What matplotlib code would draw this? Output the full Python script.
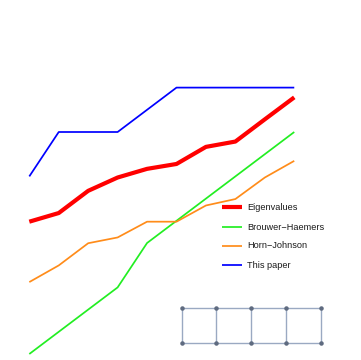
import matplotlib.pyplot as plt
from matplotlib.lines import Line2D

# data (arbitrary units)
n = [0, 1, 2, 3, 4, 5, 6, 7, 8, 9]
eigenvalues = [5.96, 6.35, 7.35, 7.95, 8.34, 8.56, 9.33, 9.57, 10.57, 11.56]
brouwer_haemers = [0, 1, 2, 3, 5, 6, 7, 8, 9, 10]
horn_johnson = [3.24, 3.99, 4.99, 5.25, 5.96, 5.96, 6.69, 6.98, 7.95, 8.70]
this_paper = [8, 10, 10, 10, 11, 12, 12, 12, 12, 12]

labels = ['Eigenvalues', 'Brouwer\u2212Haemers', 'Horn\u2212Johnson', 'This paper']
colors = ['#ff0000', '#22ee22', '#ff8c1a', '#0000ff']
widths = [3.0, 1.25, 1.25, 1.25]

# ladder graph (2 x 5)
ladder_cols = [0, 1, 2, 3, 4]
ladder_rows = [0, 1]

W, H = 361, 360
fig = plt.figure(figsize=(W / 100, H / 100), dpi=100)
ax = fig.add_axes([0, 0, 1, 1])
ax.axis('off')

series = [eigenvalues, brouwer_haemers, horn_johnson, this_paper]
for ys, c, lw in zip(series, colors, widths):
    ax.plot(n, ys, color=c, lw=lw, solid_capstyle='butt', solid_joinstyle='round')

# map data to pixel positions of the reference
x0, dx = 29.3, 29.44
y0, dy = 354.0, 22.2
ax.set_xlim(-x0 / dx, (W - x0) / dx)
ax.set_ylim(-(H - y0) / dy, y0 / dy)

# legend drawn by hand
leg_y = [207.3, 227.0, 245.5, 265.0]
for lab, c, lw, py in zip(labels, colors, widths, leg_y):
    fy = 1 - py / H
    fig.add_artist(Line2D([222 / W, 242 / W], [fy, fy], color=c, lw=lw,
                          solid_capstyle='butt', transform=fig.transFigure))
    fig.text(247 / W, fy, lab, fontsize=6.6, family=['Liberation Sans', 'DejaVu Sans'],
             color='#1a1a1a', va='center', ha='left')

# inset: ladder graph
gx = fig.add_axes([181.7 / W, 1 - 342.7 / H, (320.7 - 181.7) / W, (342.7 - 308.3) / H])
gx.axis('off')
edge_c = '#9aa9c2'
node_c = '#5f6b80'
for r in ladder_rows:
    gx.plot(ladder_cols, [r] * len(ladder_cols), color=edge_c, lw=1.0, zorder=1)
for c in ladder_cols:
    gx.plot([c, c], ladder_rows, color=edge_c, lw=1.0, zorder=1)
for r in ladder_rows:
    gx.scatter(ladder_cols, [r] * len(ladder_cols), s=5, color=node_c, zorder=2)
gx.set_xlim(0, 4)
gx.set_ylim(0, 1)
for art in gx.lines + gx.collections:
    art.set_clip_on(False)

fig.savefig('out.png', dpi=100)
